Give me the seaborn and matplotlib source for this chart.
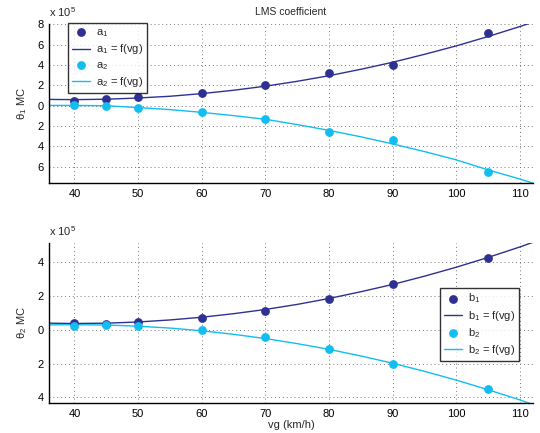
import numpy as np
import pandas as pd
import seaborn as sns
import matplotlib
matplotlib.use("Agg")
import matplotlib.pyplot as plt

# vitesses (km/h) des points mesures
vg = [40, 45, 50, 60, 70, 80, 90, 105]
# coefficients (x 1e5)
a1 = [0.50, 0.66, 0.86, 1.29, 2.00, 3.20, 3.96, 7.10]
a2 = [0.10, 0.00, -0.23, -0.66, -1.35, -2.60, -3.33, -6.50]
b1 = [0.40, 0.36, 0.45, 0.71, 1.10, 1.83, 2.72, 4.26]
b2 = [0.20, 0.30, 0.20, 0.00, -0.41, -1.14, -2.01, -3.51]

# courbes f(vg)
vg_fit = [36, 40, 45, 50, 55, 60, 65, 70, 75, 80, 85, 90, 95, 100, 105, 110, 112]
a1_fit = [0.62, 0.60, 0.64, 0.76, 0.93, 1.19, 1.52, 1.92, 2.40, 2.95, 3.58, 4.27, 5.05, 5.88, 6.80, 7.78, 8.20]
a2_fit = [0.03, 0.03, 0.00, -0.18, -0.38, -0.65, -0.97, -1.33, -1.85, -2.42, -3.05, -3.75, -4.50, -5.32, -6.30, -7.20, -7.60]
b1_fit = [0.39, 0.37, 0.39, 0.46, 0.58, 0.74, 0.95, 1.20, 1.50, 1.85, 2.25, 2.68, 3.17, 3.70, 4.28, 4.90, 5.17]
b2_fit = [0.29, 0.30, 0.28, 0.21, 0.10, -0.06, -0.27, -0.52, -0.82, -1.16, -1.55, -1.98, -2.46, -2.98, -3.55, -4.15, -4.43]

xticks = [40, 50, 60, 70, 80, 90, 100, 110]
yticks_top = [-6, -4, -2, 0, 2, 4, 6, 8]
yticks_bot = [-4, -2, 0, 2, 4]

dark = '#2e3192'
cyan = '#12bdf0'

sns.set_style("white")
plt.rcParams['font.family'] = ['Liberation Sans', 'DejaVu Sans']
plt.rcParams['mathtext.default'] = 'regular'

pts = pd.DataFrame({'vg': vg, 'a1': a1, 'a2': a2, 'b1': b1, 'b2': b2})
fit = pd.DataFrame({'vg': vg_fit, 'a1': a1_fit, 'a2': a2_fit, 'b1': b1_fit, 'b2': b2_fit})

fig = plt.figure(figsize=(5.4, 4.33), dpi=100)
ax1 = fig.add_axes([0.0907, 0.577, 0.896, 0.367])
ax2 = fig.add_axes([0.0907, 0.0693, 0.896, 0.3695])


def panel(ax, c1, c2, n, yticks, ylim, idx):
    sns.scatterplot(data=pts, x='vg', y=c1, ax=ax, color=dark, s=40, edgecolor=dark,
                    linewidth=0, label=n + '$_1$', zorder=3)
    sns.lineplot(data=fit, x='vg', y=c1, ax=ax, color=dark, lw=1,
                 label=n + '$_1$ = f(vg)', zorder=2)
    sns.scatterplot(data=pts, x='vg', y=c2, ax=ax, color=cyan, s=40, edgecolor=cyan,
                    linewidth=0, label=n + '$_2$', zorder=3)
    sns.lineplot(data=fit, x='vg', y=c2, ax=ax, color=cyan, lw=1,
                 label=n + '$_2$ = f(vg)', zorder=2)
    ax.set_xlim(36, 112)
    ax.set_ylim(*ylim)
    ax.set_xticks(xticks)
    ax.set_xticklabels([str(t) for t in xticks])
    ax.set_yticks(yticks)
    ax.set_yticklabels([str(abs(t)) for t in yticks])
    ax.tick_params(direction='in', length=3, labelsize=8, colors='black')
    ax.tick_params(axis='x', pad=4)
    ax.tick_params(axis='y', pad=4)
    ax.grid(True, linestyle=(0, (1, 3)), color='#777777', lw=0.7)
    for s in ['top', 'right']:
        ax.spines[s].set_visible(False)
    for s in ['left', 'bottom']:
        ax.spines[s].set_linewidth(1.0)
        ax.spines[s].set_color('black')
    ax.set_xlabel('')
    ax.set_ylabel('\u03b8$_%d$ MC' % idx, fontsize=8, labelpad=6)
    ax.text(0.0, 1.03, 'x 10$^5$', transform=ax.transAxes, fontsize=8, ha='left', va='bottom')


def legende(ax, loc, anchor):
    leg = ax.legend(loc=loc, bbox_to_anchor=anchor, fontsize=8,
                    frameon=True, fancybox=False, edgecolor='black', borderaxespad=0,
                    handlelength=1.6, handletextpad=0.55, labelspacing=0.3, borderpad=0.35)
    leg.get_frame().set_linewidth(1.0)
    return leg


panel(ax1, 'a1', 'a2', 'a', yticks_top, (-7.6, 8.0), 1)
panel(ax2, 'b1', 'b2', 'b', yticks_bot, (-4.33, 5.13), 2)

legende(ax1, 'upper left', (0.039, 1.005))
legende(ax2, 'lower right', (0.971, 0.2625))

ax1.set_title('LMS coefficient', fontsize=7.5, pad=7)
ax2.set_xlabel('vg (km/h)', fontsize=8, labelpad=1)

fig.savefig('out.png', dpi=100)
